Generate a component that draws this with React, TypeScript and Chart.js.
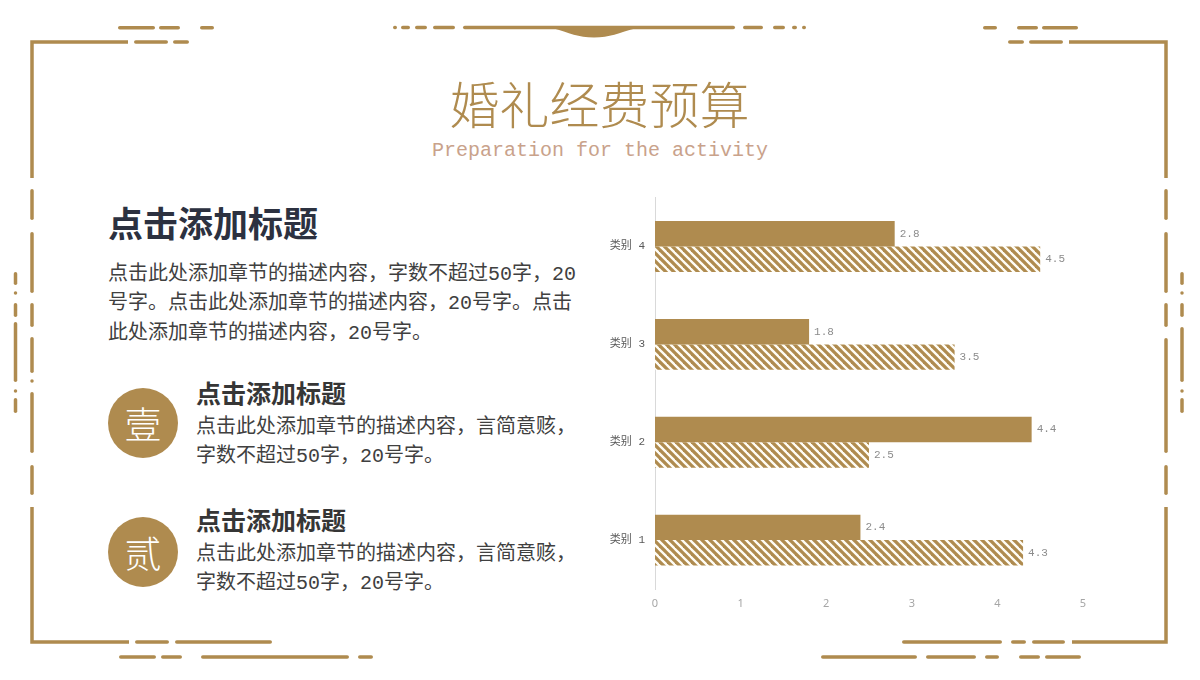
import React, { useEffect, useRef } from 'react';
import { Chart, registerables } from 'chart.js';

Chart.register(...registerables);

// ---------- chart data ----------
const categories = ['类别 1', '类别 2', '类别 3', '类别 4'];
const seriesSolid = [2.4, 4.4, 1.8, 2.8];
const seriesHatched = [4.3, 2.5, 3.5, 4.5];
const seriesNames = ['系列 1', '系列 2'];
const xMin = 0;
const xMax = 5;
const xStep = 1;

// ---------- texts ----------
const titleText = '婚礼经费预算';
const subtitleText = 'Preparation for the activity';
const headingText = '点击添加标题';
const paragraphLines = [
  '点击此处添加章节的描述内容，字数不超过50字，20',
  '号字。点击此处添加章节的描述内容，20号字。点击',
  '此处添加章节的描述内容，20号字。',
];
const itemMarks = ['壹', '贰'];
const itemTitles = ['点击添加标题', '点击添加标题'];
const itemBodies = [
  ['点击此处添加章节的描述内容，言简意赅，', '字数不超过50字，20号字。'],
  ['点击此处添加章节的描述内容，言简意赅，', '字数不超过50字，20号字。'],
];

const GOLD = '#AF8B4F';
const CJK = '"Noto Sans CJK SC", "Noto Sans", sans-serif';
const MONO_CJK = '"Liberation Mono", "Noto Sans CJK SC", monospace';

// ---------- decoration geometry (layout only) ----------
const SW = 3.5;
type Seg = [number, number];
const hRows: { y: number; segs: Seg[] }[] = [
  { y: 27.5, segs: [[393, 397], [401, 410], [415, 427], [433, 455], [463, 735], [743, 763], [773, 785], [792, 797], [802, 806]] },
  { y: 27.7, segs: [[118, 155], [159, 180], [200, 214], [983, 997], [1017, 1038], [1042, 1078]] },
  { y: 42, segs: [[134, 168], [173, 189], [1008, 1024], [1029, 1063]] },
  { y: 642, segs: [[135, 169], [175, 272], [902, 1002], [1011, 1026], [1032, 1065]] },
  { y: 657, segs: [[119, 156], [161, 182], [201, 349], [358, 373], [821, 917], [926, 976], [985, 999], [1019, 1040], [1045, 1081]] },
];
const vCols: { x: number; segs: Seg[] }[] = [
  { x: 32, segs: [[189, 220], [232, 293], [303, 327], [337, 373], [380, 382], [392, 453], [465, 495]] },
  { x: 1166, segs: [[189, 220], [232, 293], [303, 327], [338, 453], [465, 495]] },
  { x: 15.5, segs: [[272, 285], [292, 294], [303, 317], [322, 382], [390, 392], [398, 413]] },
  { x: 1182, segs: [[272, 285], [292, 294], [303, 317], [327, 382], [390, 392], [398, 413]] },
];
const corners = [
  'M32,178 V42 H128',
  'M32,507 V642 H129',
  'M1069,42 H1166 V178',
  'M1072,642 H1166 V507',
];

function segLine(a: number, b: number): [number, number] {
  const r = SW / 2;
  if (b - a <= SW) {
    const m = (a + b) / 2;
    return [m - 0.01, m + 0.01];
  }
  return [a + r, b - r];
}

function Decorations() {
  const lines: React.ReactNode[] = [];
  hRows.forEach((row, i) =>
    row.segs.forEach((s, j) => {
      const [a, b] = segLine(s[0], s[1]);
      lines.push(<line key={`h${i}-${j}`} x1={a} x2={b} y1={row.y} y2={row.y} />);
    })
  );
  vCols.forEach((col, i) =>
    col.segs.forEach((s, j) => {
      const [a, b] = segLine(s[0], s[1]);
      lines.push(<line key={`v${i}-${j}`} x1={col.x} x2={col.x} y1={a} y2={b} />);
    })
  );
  return (
    <svg width={1200} height={680} style={{ position: 'absolute', left: 0, top: 0 }}>
      <g stroke={GOLD} strokeWidth={SW} strokeLinecap="round" fill="none">
        {lines}
      </g>
      <g stroke={GOLD} strokeWidth={SW} strokeLinecap="butt" strokeLinejoin="miter" fill="none">
        {corners.map((d, i) => (
          <path key={i} d={d} />
        ))}
      </g>
      <path d="M552,28 C570,33 578,37.5 594,37.5 C610,37.5 618,33 637,28 Z" fill={GOLD} />
    </svg>
  );
}

function makeHatch(ctx: CanvasRenderingContext2D) {
  const s = 8;
  const c = document.createElement('canvas');
  c.width = s;
  c.height = s;
  const g = c.getContext('2d')!;
  g.fillStyle = GOLD;
  g.fillRect(0, 0, s, s);
  g.strokeStyle = '#FFFDF6';
  g.lineWidth = 2.3;
  for (const k of [-1, 0, 1]) {
    g.beginPath();
    g.moveTo(k * s - 1, -1);
    g.lineTo(k * s + s + 1, s + 1);
    g.stroke();
  }
  return ctx.createPattern(c, 'repeat') as CanvasPattern;
}

const valueLabels = {
  id: 'valueLabels',
  afterDatasetsDraw(chart: any) {
    const ctx = chart.ctx;
    ctx.save();
    ctx.font = '11px "Liberation Mono", monospace';
    ctx.fillStyle = '#8C8C8C';
    ctx.textAlign = 'left';
    ctx.textBaseline = 'middle';
    chart.data.datasets.forEach((ds: any, di: number) => {
      const meta = chart.getDatasetMeta(di);
      meta.data.forEach((bar: any, i: number) => {
        const v = ds.data[i];
        ctx.fillText(Number(v).toFixed(1), bar.x + 5, bar.y);
      });
    });
    ctx.restore();
  },
};

function BarChart() {
  const ref = useRef<HTMLCanvasElement | null>(null);
  useEffect(() => {
    const canvas = ref.current!;
    const ctx = canvas.getContext('2d')!;
    const hatch = makeHatch(ctx);
    const chart = new Chart(ctx, {
      type: 'bar',
      data: {
        labels: categories,
        datasets: [
          { label: seriesNames[0], data: seriesSolid, backgroundColor: GOLD, borderWidth: 0 },
          { label: seriesNames[1], data: seriesHatched, backgroundColor: hatch, borderWidth: 0 },
        ],
      },
      options: {
        indexAxis: 'y',
        animation: false,
        responsive: false,
        maintainAspectRatio: false,
        datasets: { bar: { categoryPercentage: 0.52, barPercentage: 1 } },
        layout: { padding: { top: 5, right: 17, left: 0, bottom: 0 } },
        plugins: { legend: { display: false }, tooltip: { enabled: false } },
        scales: {
          y: {
            type: 'category',
            reverse: true,
            grid: { display: false, drawTicks: false },
            border: { display: true, color: '#D9D9D9', width: 1 },
            ticks: { color: '#595959', padding: 10, font: { size: 11, family: MONO_CJK } },
            afterFit: (s: any) => {
              s.width = 60;
            },
          },
          x: {
            type: 'linear',
            min: xMin,
            max: xMax,
            grid: { display: false, drawTicks: false },
            border: { display: false },
            ticks: { stepSize: xStep, color: '#A6A6A6', padding: 8, font: { size: 11, family: '"Noto Sans", sans-serif' } },
            afterFit: (s: any) => {
              s.height = 26;
            },
          },
        },
      } as any,
      plugins: [valueLabels],
    });
    return () => chart.destroy();
  }, []);
  return (
    <canvas
      ref={ref}
      width={505}
      height={434}
      style={{ position: 'absolute', left: 595, top: 181, width: 505, height: 434 }}
    />
  );
}

const abs = (left: number, top: number, extra: React.CSSProperties = {}): React.CSSProperties => ({
  position: 'absolute',
  left,
  top,
  whiteSpace: 'nowrap',
  margin: 0,
  ...extra,
});

export default function App() {
  const itemTops = [0, 128];
  return (
    <div
      style={{
        position: 'absolute',
        left: 0,
        top: 0,
        width: 1200,
        height: 680,
        overflow: 'hidden',
        background: '#FFFFFF',
        fontFamily: CJK,
      }}
    >
      <Decorations />
      <div
        style={abs(0, 72, {
          width: 1199,
          textAlign: 'center',
          fontSize: 50,
          lineHeight: '60px',
          color: GOLD,
          fontWeight: 300,
        })}
      >
        {titleText}
      </div>
      <div
        style={abs(0, 139, {
          width: 1200,
          textAlign: 'center',
          fontSize: 20,
          lineHeight: '24px',
          color: '#C9A28B',
          fontFamily: '"Liberation Mono", monospace',
        })}
      >
        {subtitleText}
      </div>

      <div style={abs(108, 202, { fontSize: 35, lineHeight: '40px', fontWeight: 700, color: '#2C3140' })}>
        {headingText}
      </div>
      <div style={abs(108, 260, { fontSize: 20, lineHeight: '29.3px', color: '#404040', fontFamily: MONO_CJK })}>
        {paragraphLines.map((l, i) => (
          <div key={i}>{l}</div>
        ))}
      </div>

      {itemMarks.map((m, i) => (
        <React.Fragment key={i}>
          <div
            style={abs(108, 388 + itemTops[i] + (i === 1 ? 1 : 0), {
              width: 70,
              height: 70,
              borderRadius: '50%',
              background: GOLD,
              color: '#FFFFFF',
              fontSize: 37,
              lineHeight: '70px',
              textAlign: 'center',
              fontWeight: 300,
            })}
          >
            {m}
          </div>
          <div
            style={abs(196, 376.5 + itemTops[i] + (i === 1 ? -0.5 : 0), {
              fontSize: 25,
              lineHeight: '30px',
              fontWeight: 700,
              color: '#363636',
            })}
          >
            {itemTitles[i]}
          </div>
          <div
            style={abs(196, 412.5 + itemTops[i] - (i === 1 ? 1 : 0), {
              fontSize: 20,
              lineHeight: '29px',
              color: '#404040',
              fontFamily: MONO_CJK,
            })}
          >
            {itemBodies[i].map((l, j) => (
              <div key={j}>{l}</div>
            ))}
          </div>
        </React.Fragment>
      ))}

      <BarChart />
    </div>
  );
}
